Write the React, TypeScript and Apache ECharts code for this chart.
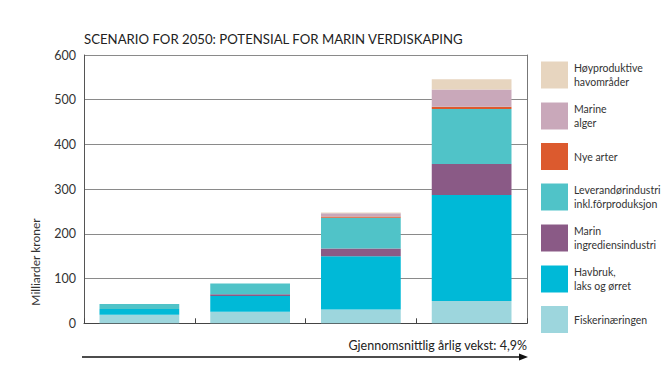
import React, { useEffect, useRef } from "react";
import * as echarts from "echarts";

const categories = ["2010", "2020", "2030", "2050"];
const seriesNames = [
  "Fiskerinæringen",
  "Havbruk, laks og ørret",
  "Marin ingrediensindustri",
  "Leverandørindustri inkl.fôrproduksjon",
  "Nye arter",
  "Marine alger",
  "Høyproduktive havområder",
];
const legendLabels = [
  "Fiskerinæringen",
  "Havbruk,\nlaks og ørret",
  "Marin\ningrediensindustri",
  "Leverandørindustri\ninkl.fôrproduksjon",
  "Nye arter",
  "Marine\nalger",
  "Høyproduktive\nhavområder",
];
const fiskeri = [19, 26, 31, 50];
const havbruk = [13, 35, 119, 237];
const marin = [0, 4, 17, 69];
const leverandor = [11, 24, 69, 123];
const nyeArter = [0, 0, 3, 5];
const marineAlger = [0, 0, 7, 39];
const hoyproduktive = [0, 0, 2, 23];
const seriesValues = [fiskeri, havbruk, marin, leverandor, nyeArter, marineAlger, hoyproduktive];
const colors = ["#9dd6dd", "#00b9d7", "#8a5a86", "#50c3c8", "#dc5a2e", "#c9a8ba", "#e7d5bf"];
const yTicks = { min: 0, max: 600, interval: 100 };
const titleText = "SCENARIO FOR 2050: POTENSIAL FOR MARIN VERDISKAPING";
const yAxisName = "Milliarder kroner";
const growthText = "Gjennomsnittlig årlig vekst: 4,9%";

const FONT = "Lato";

export default function App() {
  const ref = useRef<HTMLDivElement>(null);
  useEffect(() => {
    const chart = echarts.init(ref.current!, null, { renderer: "svg" });
    const labelMap: Record<string, string> = {};
    seriesNames.forEach((n, i) => (labelMap[n] = legendLabels[i]));
    chart.setOption({
      animation: false,
      textStyle: { fontFamily: FONT },
      grid: { left: 84, top: 55, width: 443, height: 268.3, containLabel: false },
      xAxis: {
        type: "category",
        data: categories,
        axisLine: { show: true, lineStyle: { color: "#444", width: 1 } },
        axisTick: { show: true, inside: true, length: 5, interval: 0, lineStyle: { color: "#444" } },
        axisLabel: { show: false },
        splitLine: { show: false },
      },
      yAxis: [
        {
          type: "value",
          min: yTicks.min,
          max: yTicks.max,
          interval: yTicks.interval,
          axisLine: { show: true, lineStyle: { color: "#555", width: 1 } },
          axisTick: { show: false },
          axisLabel: { color: "#333", fontSize: 12.5, margin: 8, fontFamily: FONT, padding: [6, 0, 0, 0] },
          splitLine: { show: true, lineStyle: { color: "#8a8a8a", width: 1 } },
        },
        {
          type: "value",
          position: "right",
          min: yTicks.min,
          max: yTicks.max,
          interval: yTicks.interval,
          axisLine: { show: true, lineStyle: { color: "#777", width: 1 } },
          axisTick: { show: false },
          axisLabel: { show: false },
          splitLine: { show: false },
        },
      ],
      legend: {
        orient: "vertical",
        left: 536,
        top: 56,
        itemWidth: 27,
        itemHeight: 27,
        itemGap: 13,
        icon: "rect",
        data: seriesNames.slice().reverse(),
        formatter: (n: string) => labelMap[n],
        textStyle: { color: "#333", fontSize: 10.5, lineHeight: 14, fontFamily: FONT, padding: [0, 0, 0, 1] },
        selectedMode: false,
      },
      series: seriesNames.map((name, i) => ({
        name,
        type: "bar",
        stack: "total",
        barCategoryGap: "28%",
        data: seriesValues[i],
        itemStyle: { color: colors[i] },
      })),
      graphic: [
        {
          type: "text",
          left: 84,
          top: 32,
          style: { text: titleText, fill: "#222", fontSize: 13.2, fontFamily: FONT },
        },
        {
          type: "text",
          x: 35,
          y: 262,
          rotation: Math.PI / 2,
          style: { text: yAxisName, fill: "#333", fontSize: 12, fontFamily: FONT, align: "center", verticalAlign: "middle" },
        },
        {
          type: "text",
          x: 527,
          y: 345,
          style: { text: growthText, fill: "#222", fontSize: 12.5, fontFamily: FONT, align: "right", verticalAlign: "middle" },
        },
        {
          type: "line",
          shape: { x1: 82, y1: 357, x2: 521, y2: 357 },
          style: { stroke: "#111", lineWidth: 1.5 },
        },
        {
          type: "polygon",
          shape: { points: [[528, 357], [519, 353.5], [519, 360.5]] },
          style: { fill: "#111" },
        },
      ],
    });
    return () => chart.dispose();
  }, []);
  return <div ref={ref} style={{ position: "fixed", left: 0, top: 0, width: 664, height: 374, background: "#fff" }} />;
}
